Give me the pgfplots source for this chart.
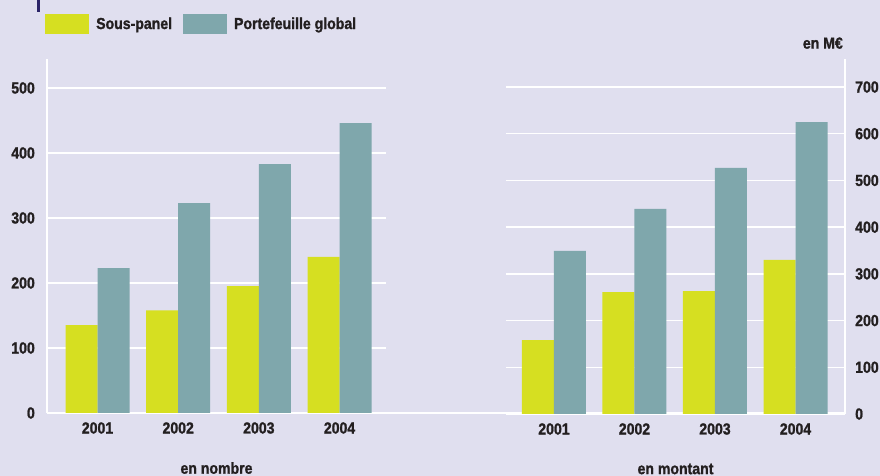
\documentclass[border=0pt]{standalone}
\usepackage{fontspec}
\setmainfont{Liberation Sans}[FakeStretch=0.88, BoldFeatures={FakeBold=1.2}]
\usepackage{pgfplots}
\pgfplotsset{compat=1.18}
\definecolor{bg}{HTML}{E0DFEF}
\definecolor{ylw}{HTML}{D6DF21}
\definecolor{tea}{HTML}{7FA7AC}
\definecolor{txt}{HTML}{231F20}
\definecolor{navy}{HTML}{2B2468}
\newcommand{\lbl}{\fontsize{16}{16}\selectfont\bfseries}
\begin{document}
\begin{tikzpicture}[x=1pt,y=1pt]
\fill[bg] (0,0) rectangle (880,476);
\fill[navy] (37,464) rectangle (40,476);
\pgfplotsset{
 common/.style={
  scale only axis, ybar=0pt, bar width=32pt, ymin=0,
  axis x line*=bottom, axis line style={white, line width=2pt, -},
  ymajorgrids, grid style={white, line width=1.5pt},
  major tick length=0,
  xtick={0,1,2,3}, xticklabels={2001,2002,2003,2004},
  tick label style={font=\lbl, text=txt},
  xticklabel style={anchor=center, yshift=-15pt},
  /pgf/number format/assume math mode=true,
  every axis plot/.append style={draw=none},
  clip=false,
  xlabel style={font=\lbl, text=txt, at={(axis description cs:0.5,0)}, anchor=center, yshift=-55pt},
 }
}
\draw[white, line width=2pt] (47,63) -- (846,63);
\begin{axis}[common, at={(47pt,63pt)}, anchor=south west,
  width=339pt, height=354pt,
  xmin=-0.626, xmax=3.576, ymax=544.6,
  axis y line*=left, ytick={0,100,200,300,400,500},
  yticklabel style={anchor=east, inner sep=0pt, xshift=-12pt},
  xlabel={en nombre},
  legend columns=2,
  legend style={draw=none, fill=none, inner sep=0pt, at={(rel axis cs:0,1)}, anchor=west, xshift=-2pt, yshift=35pt, font=\lbl, text=txt,
    /tikz/every odd column/.append style={column sep=5pt},
    /tikz/every even column/.append style={column sep=9pt}},
  legend cell align=left,
  legend image code/.code={\fill[#1] (0pt,-10pt) rectangle (44pt,10pt);},
]
\addplot[fill=ylw] coordinates {(0,135) (1,158) (2,195) (3,240)};
\addplot[fill=tea] coordinates {(0,223) (1,323) (2,383) (3,446)};
\legend{Sous-panel, Portefeuille global}
\end{axis}
\begin{axis}[common, at={(506pt,62pt)}, anchor=south west,
  width=339pt, height=355pt,
  xmin=-0.596, xmax=3.615, ymax=760,
  axis y line*=right, ytick={0,100,200,300,400,500,600,700},
  yticklabel style={anchor=west, inner sep=0pt, xshift=10pt},
  xlabel={en montant},
]
\addplot[fill=ylw] coordinates {(0,158) (1,261) (2,263) (3,330)};
\addplot[fill=tea] coordinates {(0,349) (1,439) (2,527) (3,625)};
\node[anchor=south east, inner sep=0pt, font=\lbl, text=txt] at (rel axis cs:1,1) [xshift=-2pt, yshift=10pt] {en M€};
\end{axis}
\pgfresetboundingbox
\path (0,0) rectangle (880,476);
\end{tikzpicture}
\end{document}
